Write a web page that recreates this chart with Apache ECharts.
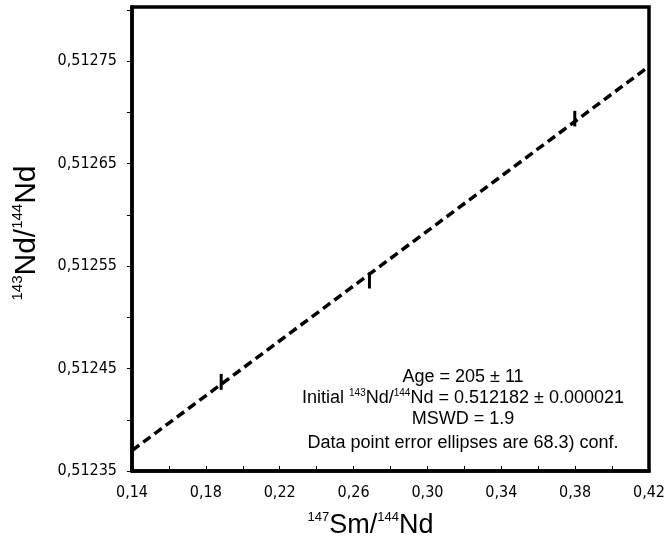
<!DOCTYPE html>
<html>
<head>
<meta charset="utf-8">
<script src="https://cdn.jsdelivr.net/npm/echarts@6/dist/echarts.min.js"></script>
<style>
  html, body { margin: 0; padding: 0; background: #fff; }
  #chart { width: 667px; height: 540px; }
</style>
</head>
<body>
<div id="chart"></div>
<script>
// measured points (147Sm/144Nd, 143Nd/144Nd, 1 sigma)
const smNd = [0.1883, 0.2686, 0.3798]
const ndNd = [0.512437, 0.512536, 0.512694]
const ndErr = [0.0000078, 0.0000078, 0.0000076]

// isochron end points
const isoX = [0.14, 0.42]
const isoY = [0.51237, 0.512745]

const noteLines = [
  'Age = 205 ± 11',
  'Initial {s|143}Nd/{s|144}Nd = 0.512182 ± 0.000021',
  'MSWD = 1.9'
]
const noteFoot = 'Data point error ellipses are 68.3) conf.'

let chart = echarts.init(document.getElementById('chart'))

let labelFont = '"DejaVu Sans Condensed", "Open Sans", sans-serif'
let textFont = 'Liberation Sans'

chart.setOption({
  animation: false,
  grid: {
    left: 132,
    right: 18,
    top: 7,
    bottom: 69,
    outerBoundsMode: 'none',
    containLabel: false,
    show: true,
    borderColor: '#000',
    borderWidth: 3.5
  },
  xAxis: {
    type: 'value',
    min: 0.14,
    max: 0.42,
    interval: 0.02,
    splitLine: { show: false },
    axisLine: { lineStyle: { color: '#000', width: 3.5 } },
    axisTick: { inside: true, length: 5, lineStyle: { color: '#000', width: 1 } },
    axisLabel: {
      color: '#000',
      fontFamily: labelFont,
      fontSize: 16,
      margin: 14,
      formatter: v => (Math.round(v * 50) % 2 === 1 ? v.toFixed(2).replace('.', ',') : '')
    },
    name: '{s|147}{m|Sm/}{s|144}{m|Nd}',
    nameLocation: 'middle',
    nameGap: 40,
    nameTextStyle: {
      color: '#000',
      padding: [0, 40, 0, 0],
      rich: {
        m: { fontFamily: textFont, fontSize: 27, color: '#000', lineHeight: 30 },
        s: { fontFamily: textFont, fontSize: 13, color: '#000', verticalAlign: 'top', lineHeight: 30 }
      }
    }
  },
  yAxis: {
    type: 'value',
    min: 0.51235,
    max: 0.512803,
    interval: 0.00005,
    splitLine: { show: false },
    axisLine: { lineStyle: { color: '#000', width: 3.5 } },
    axisTick: { inside: false, length: 5, lineStyle: { color: '#000', width: 1 } },
    axisLabel: {
      color: '#000',
      fontFamily: labelFont,
      fontSize: 16,
      margin: 15,
      showMaxLabel: false,
      formatter: v => (Math.round(v / 0.00005) % 2 === 1 ? v.toFixed(5).replace('.', ',') : '')
    },
    name: '{s|143}{m|Nd/}{s|144}{m|Nd}',
    nameLocation: 'middle',
    nameRotate: 90,
    nameGap: 88,
    nameTextStyle: {
      color: '#000',
      padding: [0, 0, 0, 12],
      rich: {
        m: { fontFamily: textFont, fontSize: 30, color: '#000', lineHeight: 34 },
        s: { fontFamily: textFont, fontSize: 15, color: '#000', verticalAlign: 'top', lineHeight: 34 }
      }
    }
  },
  series: [
    {
      type: 'line',
      data: isoX.map((x, i) => [x, isoY[i]]),
      symbol: 'none',
      lineStyle: { color: '#000', width: 3.5, type: [9, 5] },
      z: 2
    },
    {
      type: 'custom',
      data: smNd.map((x, i) => [x, ndNd[i], ndErr[i]]),
      renderItem: (params, api) => {
        let top = api.coord([api.value(0), api.value(1) + api.value(2)])
        let bot = api.coord([api.value(0), api.value(1) - api.value(2)])
        return {
          type: 'line',
          shape: { x1: top[0], y1: top[1], x2: bot[0], y2: bot[1] },
          style: { stroke: '#000', lineWidth: 3 }
        }
      },
      z: 3
    }
  ],
  graphic: [
    {
      type: 'text',
      x: 463,
      y: 367,
      style: {
        text: noteLines.join('\n'),
        align: 'center',
        fill: '#000',
        font: '18px "Liberation Sans"',
        lineHeight: 21,
        rich: {
          s: { fontSize: 10, verticalAlign: 'top', lineHeight: 21, fontFamily: textFont }
        }
      }
    },
    {
      type: 'text',
      x: 463,
      y: 434,
      style: {
        text: noteFoot,
        align: 'center',
        fill: '#000',
        font: '18px "Liberation Sans"'
      }
    }
  ]
})
</script>
</body>
</html>
